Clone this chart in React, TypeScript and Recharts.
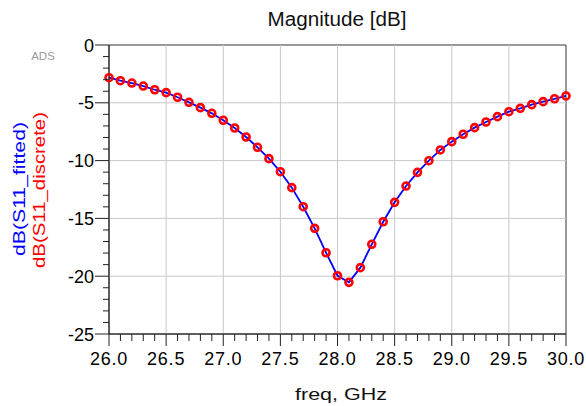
import { ComposedChart, Line, XAxis, YAxis, ReferenceLine, ReferenceArea } from 'recharts';

// frequency points, GHz
const freq = [
  26.0, 26.1, 26.2, 26.3, 26.4, 26.5, 26.6, 26.7, 26.8, 26.9,
  27.0, 27.1, 27.2, 27.3, 27.4, 27.5, 27.6, 27.7, 27.8, 27.9,
  28.0, 28.1, 28.2, 28.3, 28.4, 28.5, 28.6, 28.7, 28.8, 28.9,
  29.0, 29.1, 29.2, 29.3, 29.4, 29.5, 29.6, 29.7, 29.8, 29.9,
  30.0,
];

// dB(S11_discrete)
const s11Discrete = [
  -2.83, -3.09, -3.29, -3.55, -3.87, -4.12, -4.52, -4.96, -5.42, -5.91,
  -6.51, -7.18, -7.96, -8.85, -9.83, -10.96, -12.34, -13.99, -15.86, -17.97,
  -19.96, -20.53, -19.26, -17.24, -15.29, -13.61, -12.2, -11.02, -10.01, -9.08,
  -8.36, -7.72, -7.15, -6.66, -6.2, -5.77, -5.48, -5.16, -4.9, -4.65,
  -4.41,
];

// dB(S11_fitted)
const s11Fitted = [
  -2.83, -3.09, -3.29, -3.55, -3.87, -4.12, -4.52, -4.96, -5.42, -5.91,
  -6.51, -7.18, -7.96, -8.85, -9.83, -10.96, -12.34, -13.99, -15.86, -17.97,
  -19.96, -20.53, -19.26, -17.24, -15.29, -13.61, -12.2, -11.02, -10.01, -9.08,
  -8.36, -7.72, -7.15, -6.66, -6.2, -5.77, -5.48, -5.16, -4.9, -4.65,
  -4.41,
];

const xGrid = [26.5, 27.0, 27.5, 28.0, 28.5, 29.0, 29.5];
const yGrid = [-5, -10, -15, -20];
const yTicks = [
  0, -1, -2, -3, -4, -5, -6, -7, -8, -9, -10, -11, -12, -13,
  -14, -15, -16, -17, -18, -19, -20, -21, -22, -23, -24, -25,
];

const data = freq.map((f, i) => ({ freq: f, fitted: s11Fitted[i], discrete: s11Discrete[i] }));

const FONT = '"Liberation Sans", Arial, sans-serif';

function XTick(props: any) {
  const { x, y, payload } = props;
  const v = payload.value;
  const major = Math.abs(v * 2 - Math.round(v * 2)) < 1e-6;
  return (
    <g>
      <line x1={x} x2={x} y1={y} y2={y + (major ? 12 : 7)} stroke="#222" strokeWidth={1} />
      {major && (
        <text x={x} y={y + 31} textAnchor="middle" fontSize={18} fontFamily={FONT} fill="#000" letterSpacing={0.8}>
          {v.toFixed(1)}
        </text>
      )}
    </g>
  );
}

function YTick(props: any) {
  const { x, y, payload } = props;
  const v = payload.value;
  const major = v % 5 === 0;
  return (
    <g>
      <line x1={x} x2={x - (major ? 14 : 6)} y1={y} y2={y} stroke="#222" strokeWidth={1} />
      {major && (
        <text x={x - 15} y={y + 6.5} textAnchor="end" fontSize={18} fontFamily={FONT} fill="#000">
          {v}
        </text>
      )}
    </g>
  );
}

export default function App() {
  return (
    <div style={{ position: 'absolute', left: 0, top: 0, width: 586, height: 406, background: '#fff' }}>
      <ComposedChart width={586} height={406} data={data} margin={{ top: 45, right: 20, bottom: 12, left: 9 }}>
        <XAxis
          dataKey="freq"
          type="number"
          domain={[26, 30]}
          ticks={freq}
          interval={0}
          tickSize={0}
          tickMargin={0}
          tickLine={false}
          height={60}
          axisLine={{ stroke: '#222' }}
          tick={(p: any) => <XTick {...p} />}
        />
        <YAxis
          type="number"
          domain={[-25, 0]}
          ticks={yTicks}
          interval={0}
          tickSize={0}
          tickMargin={0}
          tickLine={false}
          width={100}
          axisLine={{ stroke: '#222' }}
          tick={(p: any) => <YTick {...p} />}
        />
        {xGrid.map((g) => (
          <ReferenceLine key={'x' + g} x={g} stroke="#c8c8c8" strokeWidth={1} />
        ))}
        {yGrid.map((g) => (
          <ReferenceLine key={'y' + g} y={g} stroke="#c8c8c8" strokeWidth={1} />
        ))}
        <ReferenceArea x1={26} x2={30} y1={-25} y2={0} fill="none" stroke="#333" strokeWidth={1} />
        <Line
          dataKey="discrete"
          stroke="none"
          isAnimationActive={false}
          dot={{ r: 3.5, stroke: '#ff0000', strokeWidth: 2.6, fill: 'none' }}
          activeDot={false}
        />
        <Line
          dataKey="fitted"
          type="linear"
          stroke="#0000ff"
          strokeWidth={1.8}
          dot={false}
          activeDot={false}
          isAnimationActive={false}
        />
      </ComposedChart>
      <svg width={586} height={406} style={{ position: 'absolute', left: 0, top: 0, pointerEvents: 'none' }}>
        <text x={337} y={26} textAnchor="middle" fontSize={20} fontFamily={FONT} fill="#111" textLength={139} lengthAdjust="spacingAndGlyphs">
          Magnitude [dB]
        </text>
        <text x={43} y={60} textAnchor="middle" fontSize={11.5} fontFamily={FONT} fill="#999">
          ADS
        </text>
        <text x={341} y={400} textAnchor="middle" fontSize={17} fontFamily={FONT} fill="#111" textLength={92} lengthAdjust="spacingAndGlyphs">
          freq, GHz
        </text>
        <text transform="translate(25,189) rotate(-90)" textAnchor="middle" fontSize={17} fontFamily={FONT} fill="#0000ff" textLength={134} lengthAdjust="spacingAndGlyphs">
          dB(S11_fitted)
        </text>
        <text transform="translate(45,190) rotate(-90)" textAnchor="middle" fontSize={17} fontFamily={FONT} fill="#ff0000" textLength={156} lengthAdjust="spacingAndGlyphs">
          dB(S11_discrete)
        </text>
      </svg>
    </div>
  );
}
